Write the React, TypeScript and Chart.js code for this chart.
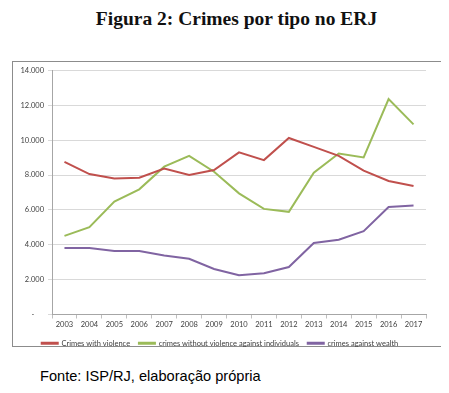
import React, { useEffect, useRef } from "react";
import { Chart, registerables } from "chart.js";

Chart.register(...registerables);

const years = ["2003","2004","2005","2006","2007","2008","2009","2010","2011","2012","2013","2014","2015","2016","2017"];
const crimesWithViolence = [8760, 8060, 7810, 7850, 8380, 8000, 8290, 9300, 8860, 10130, 9620, 9100, 8250, 7660, 7370];
const crimesWithoutViolence = [4510, 5010, 6480, 7180, 8480, 9100, 8190, 6950, 6060, 5890, 8130, 9240, 9010, 12360, 10910];
const crimesAgainstWealth = [3810, 3810, 3640, 3640, 3390, 3200, 2610, 2250, 2370, 2720, 4100, 4290, 4780, 6170, 6250];
const yTickValues = [0, 2000, 4000, 6000, 8000, 10000, 12000, 14000];
const yTickLabels = ["-     ", "2.000", "4.000", "6.000", "8.000", "10.000", "12.000", "14.000"];
const seriesNames = ["Crimes with violence", "crimes without violence against individuals", "crimes against wealth"];

const FONT = "Lato, 'Open Sans', sans-serif";

export default function App() {
  const ref = useRef<HTMLCanvasElement | null>(null);
  useEffect(() => {
    if (!ref.current) return;
    const colors = ["#C0504D", "#9BBB59", "#8064A2"];
    const data = [crimesWithViolence, crimesWithoutViolence, crimesAgainstWealth];
    const chart = new Chart(ref.current, {
      type: "line",
      data: {
        labels: years,
        datasets: data.map((d, i) => ({
          label: seriesNames[i],
          data: d,
          borderColor: colors[i],
          backgroundColor: colors[i],
          borderWidth: 2,
          pointRadius: 0,
          tension: 0,
          fill: false,
        })),
      },
      options: {
        animation: false,
        responsive: false,
        maintainAspectRatio: false,
        layout: { padding: { top: 8, right: 16, left: 0, bottom: 0 } },
        plugins: {
          tooltip: { enabled: false },
          legend: {
            position: "bottom",
            labels: {
              boxWidth: 16,
              boxHeight: 1,
              padding: 5,
              color: "#404040",
              font: { family: FONT, size: 7.5 },
              generateLabels: (ch: any) => {
                const items = Chart.defaults.plugins.legend.labels.generateLabels(ch);
                return items.map((it: any, i: number) => ({
                  ...it,
                  text: i < items.length - 1 ? it.text + "  " : it.text,
                }));
              },
            },
          },
        },
        scales: {
          x: {
            offset: true,
            grid: {
              display: true,
              offset: true,
              drawOnChartArea: false,
              drawTicks: true,
              tickLength: 4,
              color: "#BFBFBF",
            },
            border: { display: true, color: "#A6A6A6" },
            ticks: {
              color: "#404040",
              font: { family: FONT, size: 7.5 },
              padding: 2,
              maxRotation: 0,
              autoSkip: false,
            },
            afterFit: (s: any) => { s.height = 20; },
          },
          y: {
            min: 0,
            max: 14000,
            afterBuildTicks: (s: any) => { s.ticks = yTickValues.map((v) => ({ value: v })); },
            grid: {
              color: "#D9D9D9",
              tickLength: 4,
              drawTicks: true,
            },
            border: { display: true, color: "#A6A6A6" },
            ticks: {
              color: "#404040",
              font: { family: FONT, size: 7.5 },
              padding: 4,
              callback: (_v: any, idx: number) => yTickLabels[idx],
            },
            afterFit: (s: any) => { s.width = 38; },
          },
        },
      },
    });
    return () => chart.destroy();
  }, []);

  return (
    <div style={{ position: "relative", width: 433, height: 377 }}>
      <div
        style={{
          position: "absolute",
          left: 12,
          top: 0,
          width: 433,
          textAlign: "center",
          fontFamily: "'Liberation Serif', 'Times New Roman', serif",
          fontWeight: "bold",
          fontSize: 19.5,
          color: "#111",
          whiteSpace: "nowrap",
        }}
      >
        Figura 2: Crimes por tipo no ERJ
      </div>
      <div
        style={{
          position: "absolute",
          left: 4,
          top: 53,
          width: 431,
          height: 286,
          border: "1px solid #8C8C8C",
          boxSizing: "border-box",
          background: "#fff",
        }}
      />
      <canvas
        ref={ref}
        width={428}
        height={295}
        style={{ position: "absolute", left: 6, top: 54, width: 428, height: 295 }}
      />
      <div
        style={{
          position: "absolute",
          left: 32,
          top: 360,
          fontFamily: "'Liberation Sans', Arial, sans-serif",
          fontSize: 14.6,
          color: "#000",
          whiteSpace: "nowrap",
        }}
      >
        Fonte: ISP/RJ, elaboração própria
      </div>
    </div>
  );
}
